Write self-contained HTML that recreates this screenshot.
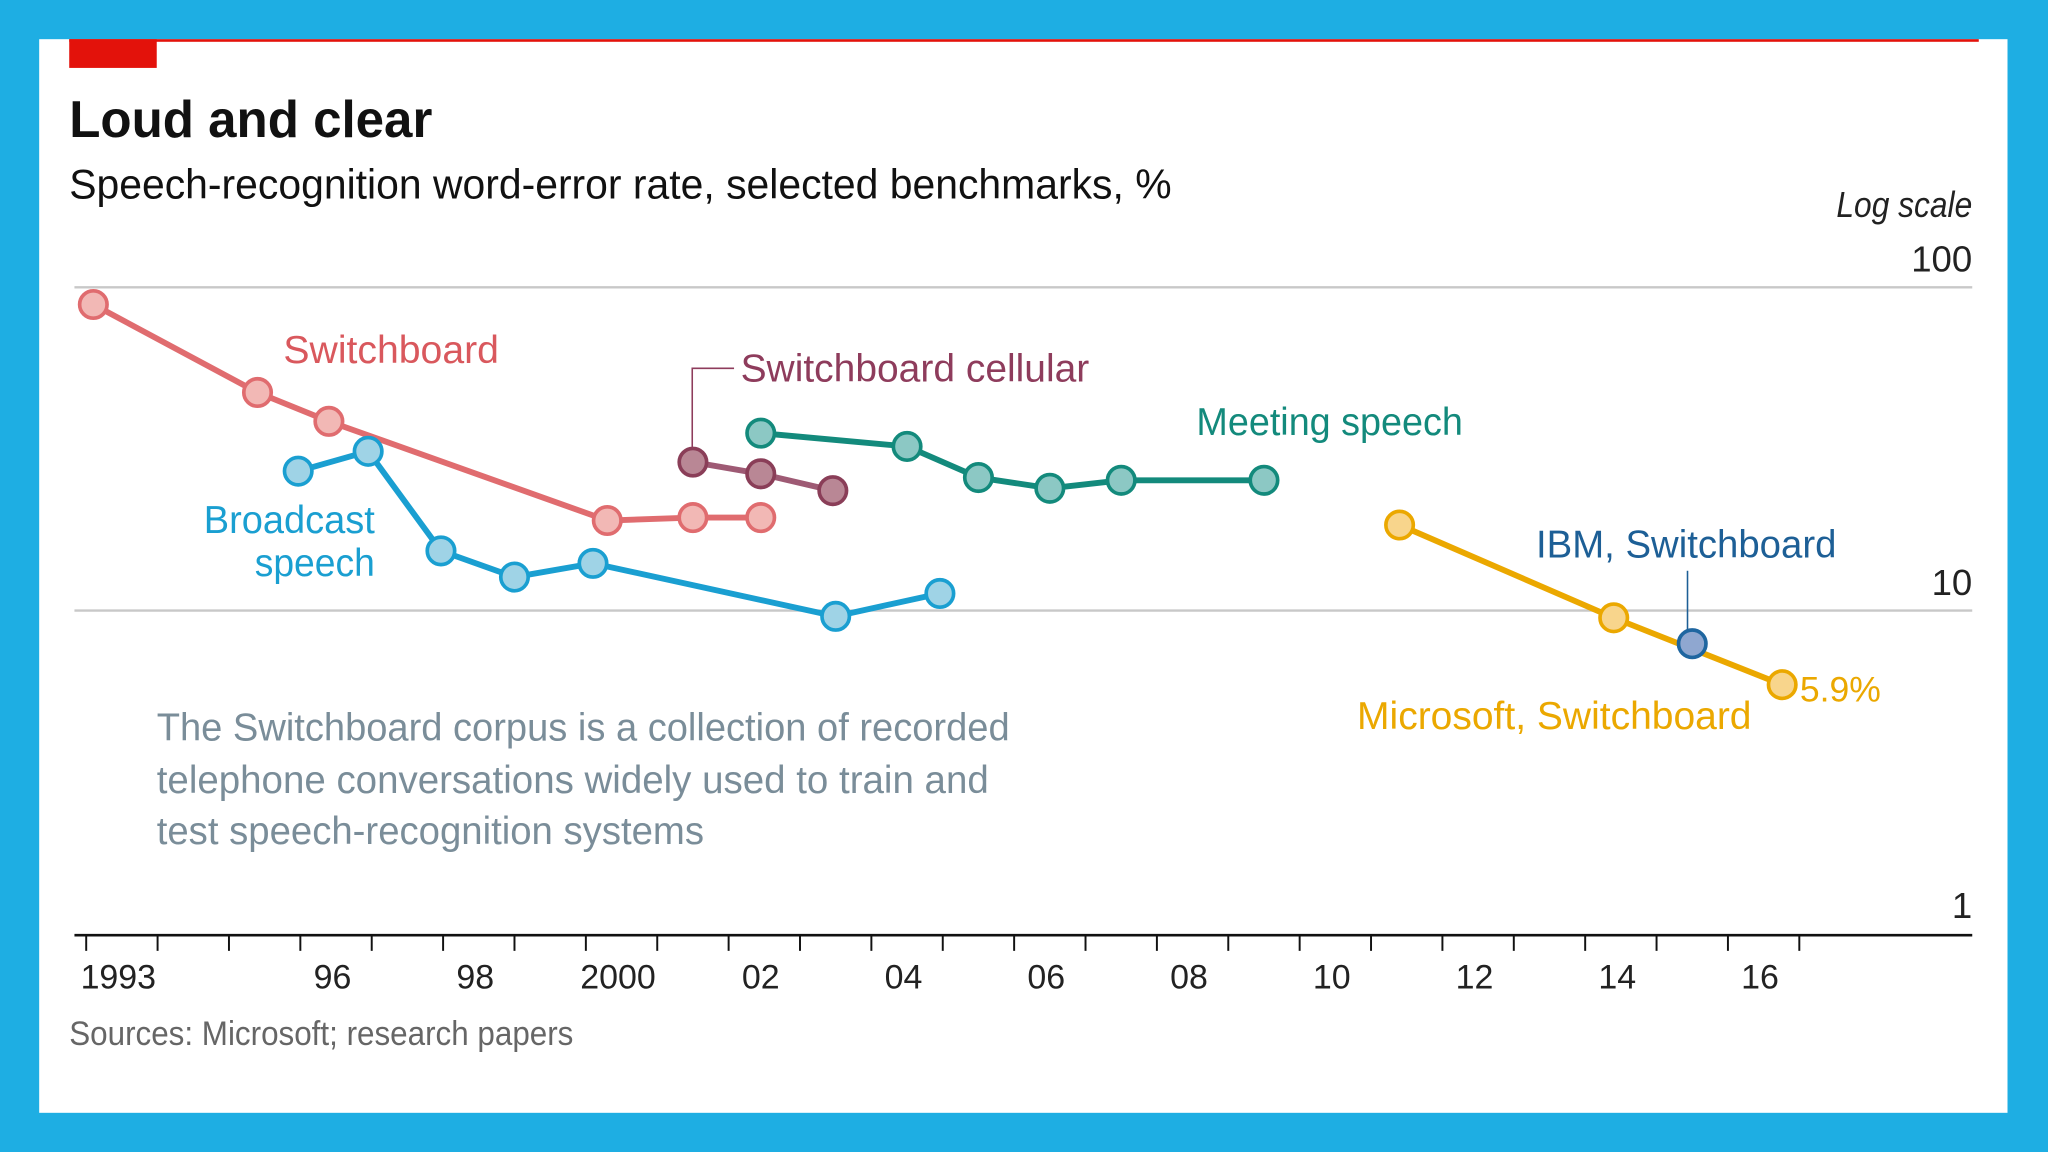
<!DOCTYPE html>
<html><head><meta charset="utf-8"><style>
html,body{margin:0;padding:0;background:#1eaee3;}
svg{display:block;}
text{font-family:"Liberation Sans",sans-serif;}
</style></head><body>
<svg width="2048" height="1152" viewBox="0 0 1568 882" preserveAspectRatio="none" xmlns="http://www.w3.org/2000/svg">
<rect x="0" y="0" width="1568" height="882" fill="#1eaee3"/>
<rect x="30" y="30" width="1507" height="822" fill="#ffffff"/>
<rect x="53" y="30" width="1462" height="2" fill="#e3120b"/>
<rect x="53" y="30" width="67" height="22" fill="#e3120b"/>
<text x="53" y="105" font-size="40" font-weight="bold" fill="#111" textLength="278" lengthAdjust="spacingAndGlyphs">Loud and clear</text>
<text x="53" y="152" font-size="32" fill="#111" textLength="844" lengthAdjust="spacingAndGlyphs">Speech-recognition word-error rate, selected benchmarks, %</text>
<text x="1510" y="166" font-size="28" font-style="italic" fill="#222" text-anchor="end" textLength="104" lengthAdjust="spacingAndGlyphs">Log scale</text>
<g id="grid"></g>
<g id="xaxis"></g>
<g id="series"></g>
<g>
<text x="217" y="278" font-size="30" fill="#d9585d" textLength="165" lengthAdjust="spacingAndGlyphs">Switchboard</text>
<path d="M530,343 V282 H562" fill="none" stroke="#8e3c5c" stroke-width="1.2"/>
<text x="567" y="292" font-size="30" fill="#8e3c5c" textLength="267" lengthAdjust="spacingAndGlyphs">Switchboard cellular</text>
<text x="916" y="333" font-size="30" fill="#138a7c" textLength="204" lengthAdjust="spacingAndGlyphs">Meeting speech</text>
<text x="156" y="408" font-size="30" fill="#1a9fd1" textLength="131" lengthAdjust="spacingAndGlyphs">Broadcast</text>
<text x="195" y="441" font-size="30" fill="#1a9fd1" textLength="92" lengthAdjust="spacingAndGlyphs">speech</text>
<text x="1176" y="427" font-size="30" fill="#1d5f96" textLength="230" lengthAdjust="spacingAndGlyphs">IBM, Switchboard</text>
<line x1="1292" y1="437" x2="1292" y2="482" stroke="#1d5f96" stroke-width="1.2"/>
<text x="1039" y="558" font-size="30" fill="#eba800" textLength="302" lengthAdjust="spacingAndGlyphs">Microsoft, Switchboard</text>
<text x="1378" y="537" font-size="27" fill="#eba800" textLength="62" lengthAdjust="spacingAndGlyphs">5.9%</text>
<text x="120" y="567" font-size="30" fill="#7a8d99" textLength="653" lengthAdjust="spacingAndGlyphs">The Switchboard corpus is a collection of recorded</text>
<text x="120" y="607" font-size="30" fill="#7a8d99" textLength="637" lengthAdjust="spacingAndGlyphs">telephone conversations widely used to train and</text>
<text x="120" y="646" font-size="30" fill="#7a8d99" textLength="419" lengthAdjust="spacingAndGlyphs">test speech-recognition systems</text>
<text x="53" y="800" font-size="26" fill="#666" textLength="386" lengthAdjust="spacingAndGlyphs">Sources: Microsoft; research papers</text>
</g>
</svg>
<script>
const yTicks = [100, 10, 1];
const yTickLabels = ["100", "10", "1"];
const xTickYears = [1993,1994,1995,1996,1997,1998,1999,2000,2001,2002,2003,2004,2005,2006,2007,2008,2009,2010,2011,2012,2013,2014,2015,2016,2017];
const xLabelYears = [1993,1996,1998,2000,2002,2004,2006,2008,2010,2012,2014,2016];
const xLabels = ["1993","96","98","2000","02","04","06","08","10","12","14","16"];

const switchboardYears = [1993.1,1995.4,1996.4,2000.3,2001.5,2002.45];
const switchboardValues = [88.5,47.3,38.5,19.0,19.4,19.4];
const broadcastYears = [1995.97,1996.95,1997.97,1999.0,2000.1,2003.5,2004.96];
const broadcastValues = [27.0,31.1,15.3,12.7,14.0,9.6,11.3];
const cellularYears = [2001.5,2002.45,2003.46];
const cellularValues = [28.8,26.5,23.5];
const meetingYears = [2002.45,2004.5,2005.5,2006.5,2007.5,2009.5];
const meetingValues = [35.4,32.2,25.8,23.9,25.3,25.3];
const microsoftYears = [2011.4,2014.4,2016.76];
const microsoftValues = [18.4,9.5,5.9];
const ibmYears = [2015.5];
const ibmValues = [7.9];

const NS = "http://www.w3.org/2000/svg";
function xs(yr){ return 66 + (yr - 1993) * 54.65; }
function ys(v){ return 220 + (2 - Math.log10(v)) * 247.5; }
function mk(tag, attrs, parent){ const e = document.createElementNS(NS, tag); for (const k in attrs) e.setAttribute(k, attrs[k]); parent.appendChild(e); return e; }

const grid = document.getElementById('grid');
yTicks.forEach((v, i) => {
  if (v !== 1) {
    const l = mk('line', {x1:57, x2:1510, y1:ys(v), y2:ys(v), stroke:'#c8c8c8', 'stroke-width':1.8}, grid);
    
    
  }
  const t = mk('text', {x:1510, y:ys(v) - 12, 'font-size':28, fill:'#222', 'text-anchor':'end'}, grid);
  t.textContent = yTickLabels[i];
  
  
});

const xa = document.getElementById('xaxis');
const ax = mk('line', {x1:57, x2:1510, y1:716, y2:716, stroke:'#111', 'stroke-width':2}, xa);


xTickYears.forEach(yr => {
  const t = mk('line', {x1:xs(yr), x2:xs(yr), y1:716, y2:728, stroke:'#111', 'stroke-width':1.5}, xa);
  
  
});
xLabelYears.forEach((yr, i) => {
  const t = mk('text', {x:xs(yr + 0.45), y:757, 'font-size':26, fill:'#222', 'text-anchor':'middle'}, xa);
  t.textContent = xLabels[i];
  
  
});

const sg = document.getElementById('series');
function drawSeries(name, years, vals, line, fill, edge){
  const g = mk('g', {}, sg);
  
  
  if (years.length > 1) {
    const p = mk('polyline', {points: years.map((y,i)=>xs(y)+','+ys(vals[i])).join(' '), fill:'none', stroke:line, 'stroke-width':4.5, 'stroke-linejoin':'round'}, g);
    
    
  }
  years.forEach((y,i) => {
    const c = mk('circle', {cx:xs(y), cy:ys(vals[i]), r:10.5, fill:fill, stroke:edge, 'stroke-width':2.8}, g);
    
    
  });
}
drawSeries('switchboard', switchboardYears, switchboardValues, '#e06c6f', '#f2b8b5', '#e06c6f');
drawSeries('broadcast', broadcastYears, broadcastValues, '#1a9fd1', '#9fd3e6', '#1a9fd1');
drawSeries('cellular', cellularYears, cellularValues, '#9e5a74', '#b98795', '#8a3e58');
drawSeries('meeting', meetingYears, meetingValues, '#138a7c', '#8cc8c4', '#138a7c');
drawSeries('microsoft', microsoftYears, microsoftValues, '#eba800', '#f8d58c', '#eba800');
drawSeries('ibm', ibmYears, ibmValues, '#1f66a0', '#8fa7d0', '#1f66a0');
</script>
</body></html>
